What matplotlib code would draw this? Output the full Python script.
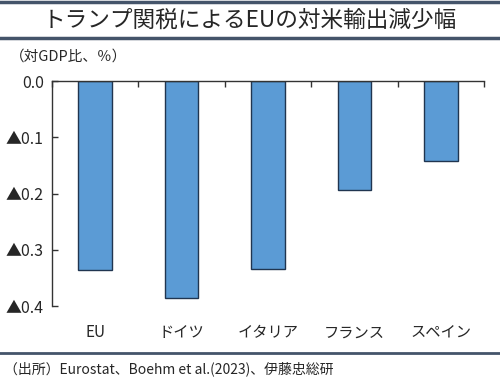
import matplotlib
matplotlib.use("Agg")
import matplotlib.pyplot as plt
from matplotlib.lines import Line2D
import numpy as np

plt.rcParams['font.family'] = ['Noto Sans CJK JP', 'DejaVu Sans']

categories = ["EU", "ドイツ", "イタリア", "フランス", "スペイン"]
values = [-0.336, -0.386, -0.334, -0.194, -0.142]
yticks = [0.0, -0.1, -0.2, -0.3, -0.4]
ytick_labels = ["0.0", "▲0.1", "▲0.2", "▲0.3", "▲0.4"]

title = "トランプ関税によるEUの対米輸出減少幅"
unit = "（対GDP比、％）"
source = "（出所）Eurostat、Boehm et al.(2023)、伊藤忠総研"

fig = plt.figure(figsize=(5.0, 3.86), dpi=100)
ax = fig.add_axes([0.104, 0.207, 0.864, 0.583])

x = np.arange(len(categories))
ax.bar(x, values, width=0.39, color="#5B9BD5", edgecolor="#203550", linewidth=1.0, zorder=2)

ax.set_xlim(-0.5, len(categories) - 0.5)
ax.set_ylim(-0.4, 0.0)
ax.set_yticks(yticks)
ax.set_yticklabels(ytick_labels, fontsize=11.5, color="#262626")
ax.tick_params(axis='y', direction='in', length=4, width=1, color="#333333", pad=6)

ax.set_xticks(x)
ax.set_xticklabels(categories, fontsize=11, color="#262626")
ax.tick_params(axis='x', which='major', bottom=True, top=False, length=0, pad=13)
ax.set_xticks(np.arange(len(categories) + 1) - 0.5, minor=True)
ax.tick_params(axis='x', which='minor', bottom=False, top=True, direction='in', length=4, width=1, color="#333333")

for s in ["bottom", "right"]:
    ax.spines[s].set_visible(False)
for s in ["left", "top"]:
    ax.spines[s].set_color("#333333")
    ax.spines[s].set_linewidth(1.0)

# title lines
lc = "#44546A"
fig.add_artist(Line2D([0, 1], [1 - 2/386, 1 - 2/386], color=lc, lw=2.5, transform=fig.transFigure))
fig.add_artist(Line2D([0, 1], [1 - 37.5/386, 1 - 37.5/386], color=lc, lw=2.5, transform=fig.transFigure))
fig.add_artist(Line2D([0, 1], [1 - 353/386, 1 - 353/386], color=lc, lw=2.0, transform=fig.transFigure))

fig.text(0.5, 1 - 20/386, title, ha='center', va='center', fontsize=16.3, color="#262626")
fig.text(0.02, 1 - 57/386, unit, ha='left', va='center', fontsize=10.5, color="#262626")
fig.text(0.008, 1 - 369/386, source, ha='left', va='center', fontsize=10, color="#262626")

fig.savefig("out.png", dpi=100)
